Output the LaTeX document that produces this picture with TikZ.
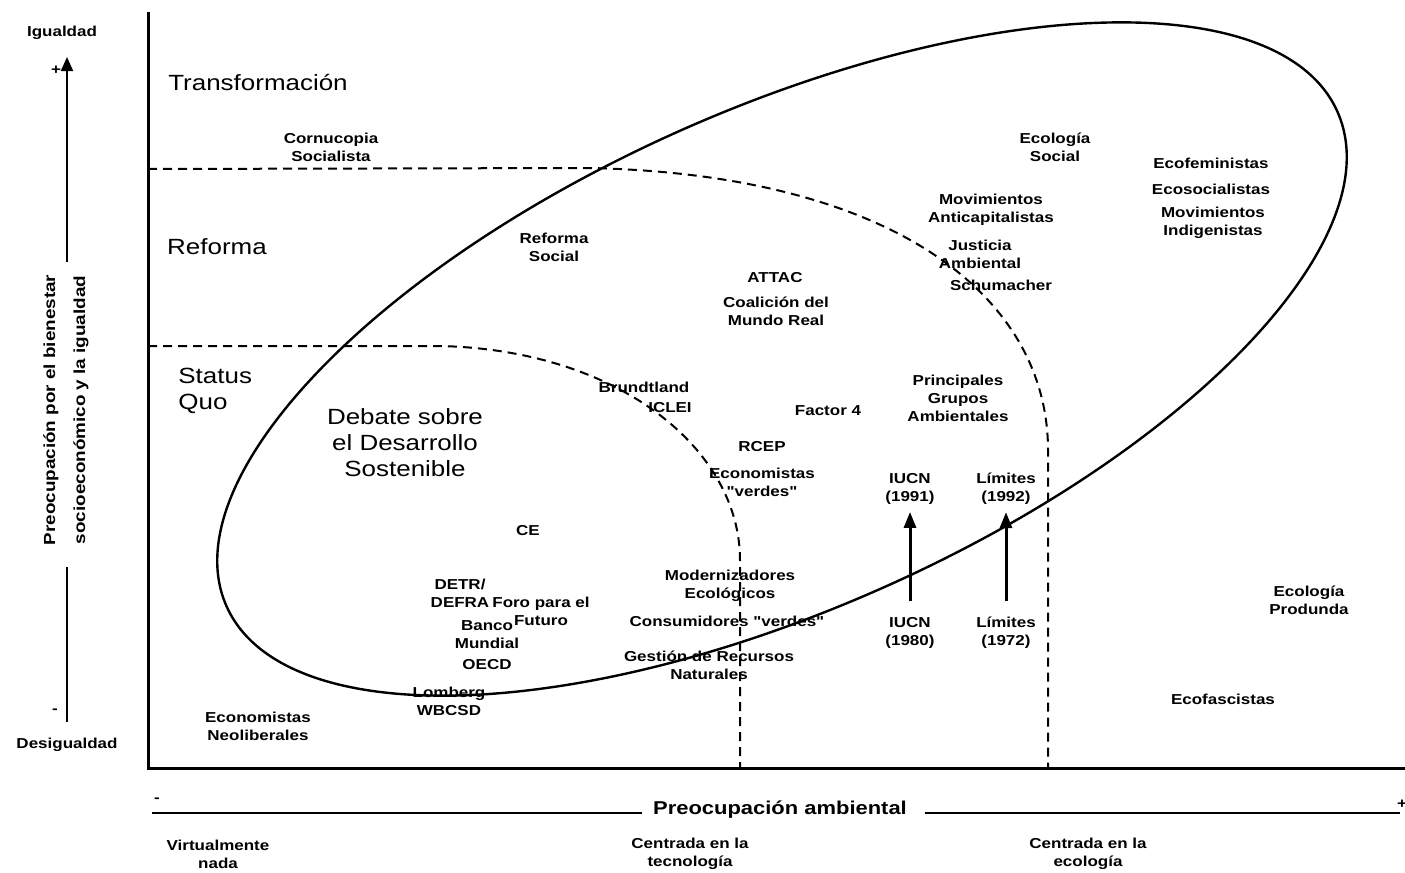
\documentclass[tikz,border=0pt]{standalone}
\usepackage{fontspec}
\setmainfont[FakeStretch=1.18,Ligatures=TeXOff]{Liberation Sans}
\usetikzlibrary{arrows.meta}
\begin{document}
\begin{tikzpicture}[x=0.5pt,y=-0.5pt,
  lbl/.style={font=\fontsize{7.2}{9}\selectfont\bfseries, align=center, inner sep=0pt},
  big/.style={font=\fontsize{11}{13}\selectfont, align=center, inner sep=0pt},
  axisline/.style={line width=1.5pt},
  thinaxis/.style={line width=1pt},
  bound/.style={line width=1pt, dash pattern=on 4.5pt off 3pt},
  ring/.style={line width=1.2pt},
  moveup/.style={line width=1.5pt, -{Triangle[width=6pt,length=8pt]}}
]
\fill[white] (0,0) rectangle (1405,873);
\useasboundingbox (0,0) rectangle (1405,873);

% main frame: vertical and horizontal axes
\coordinate (ytop) at (148,12);
\coordinate (origin) at (148,768);
\coordinate (xend) at (1405,768);
\draw[axisline] (ytop) -- (origin) -- (xend);

% vertical scale: equality arrow
\coordinate (ya) at (67,722);
\coordinate (yb) at (67,567);
\coordinate (yc) at (67,262);
\coordinate (yd) at (67,57);
\draw[thinaxis] (ya) -- (yb);
\draw[thinaxis, -{Triangle[width=6pt,length=7pt]}] (yc) -- (yd);
\node[lbl] (igual) at (62,33) {Igualdad};
\node[lbl] (plusy) at (56,70) {+};
\node[lbl] (minusy) at (55,711) {-};
\node[lbl] (desigual) at (67,745) {Desigualdad};
\node[lbl, font=\fontsize{8}{15}\selectfont\bfseries, rotate=90] (yaxis) at (66,410)
  {Preocupación por el bienestar\\socioeconómico y la igualdad};

% horizontal scale: environmental concern
\coordinate (xa) at (152,813);
\coordinate (xb) at (642,813);
\coordinate (xc) at (925,813);
\coordinate (xd) at (1400,813);
\draw[thinaxis] (xa) -- (xb);
\draw[thinaxis] (xc) -- (xd);
\node[lbl, font=\fontsize{9.3}{11}\selectfont\bfseries] (xaxis) at (780,810) {Preocupación ambiental};
\node[lbl] (minusx) at (157,800) {-};
\node[lbl] (plusx) at (1402,804) {+};
\node[lbl] (nada) at (218,854) {Virtualmente\\nada};
\node[lbl] (tecno) at (690,854) {Centrada en la\\tecnología};
\node[lbl] (eco) at (1088,854) {Centrada en la\\ecología};

% dashed boundaries between transformation, reform and status quo
\coordinate (r0) at (148,169);
\coordinate (r1) at (590,168);
\coordinate (r2) at (1048,450);
\coordinate (r3) at (1048,768);
\draw[bound] (r0) -- (r1) .. controls (900,175) and (1048,300) .. (r2) -- (r3);
\coordinate (s0) at (148,346);
\coordinate (s1) at (440,346);
\coordinate (s2) at (740,560);
\coordinate (s3) at (740,768);
\draw[bound] (s0) -- (s1) .. controls (620,350) and (740,450) .. (s2) -- (s3);

% sustainable development debate
\draw[ring, shift={(782,359)}, rotate=24] (0,0) ellipse [x radius=608, y radius=250];

% region names
\node[big] (transf) at (258,83) {Transformación};
\node[big] (reforma) at (217,247) {Reforma};
\node[big, anchor=west, align=left] (statusquo) at (178,391) {Status\\Quo};
\node[big] (debate) at (405,443) {Debate sobre\\el Desarrollo\\Sostenible};

% actors
\node[lbl] (cornu) at (331,147) {Cornucopia\\Socialista};
\node[lbl] (refsoc) at (554,247) {Reforma\\Social};
\node[lbl] (attac) at (775,278) {ATTAC};
\node[lbl] (coal) at (776,311) {Coalición del\\Mundo Real};
\node[lbl] (ecosoc) at (1055,147) {Ecología\\Social};
\node[lbl] (movanti) at (991,210) {Movimientos\\Anticapitalistas};
\node[lbl] (justicia) at (980,254) {Justicia\\Ambiental};
\node[lbl] (schum) at (1001,285) {Schumacher};
\node[lbl] (ecofem) at (1211,163) {Ecofeministas};
\node[lbl] (ecosocial) at (1211,189) {Ecosocialistas};
\node[lbl] (movind) at (1213,223) {Movimientos\\Indigenistas};
\node[lbl] (grupos) at (958,398) {Principales\\Grupos\\Ambientales};
\node[lbl] (factor) at (828,411) {Factor 4};
\node[lbl] (brund) at (644,387) {Brundtland};
\node[lbl] (iclei) at (670,408) {ICLEI};
\node[lbl] (rcep) at (762,447) {RCEP};
\node[lbl] (ecoverdes) at (762,482) {Economistas\\"verdes"};
\node[lbl] (ce) at (528,531) {CE};
\node[lbl] (detr) at (460,593) {DETR/\\DEFRA};
\node[lbl] (foro) at (541,611) {Foro para el\\Futuro};
\node[lbl] (banco) at (487,635) {Banco\\Mundial};
\node[lbl] (oecd) at (487,665) {OECD};
\node[lbl] (lomberg) at (449,701) {Lomberg\\WBCSD};
\node[lbl] (neolib) at (258,726) {Economistas\\Neoliberales};
\node[lbl] (moder) at (730,586) {Modernizadores\\Ecológicos};
\node[lbl] (consum) at (727,621) {Consumidores "verdes"};
\node[lbl] (gestion) at (709,665) {Gestión de Recursos\\Naturales};
\node[lbl] (iucnB) at (910,489) {IUCN\\(1991)};
\node[lbl] (limB) at (1006,489) {Límites\\(1992)};
\node[lbl] (iucnA) at (910,633) {IUCN\\(1980)};
\node[lbl] (limA) at (1006,633) {Límites\\(1972)};
\node[lbl] (profunda) at (1309,600) {Ecología\\Produnda};
\node[lbl] (ecofas) at (1223,699) {Ecofascistas};

% shifts of position over time
\draw[moveup, shorten <=8pt, shorten >=3.5pt] (iucnA) -- (iucnB);
\draw[moveup, shorten <=8pt, shorten >=3.5pt] (limA) -- (limB);
\end{tikzpicture}
\end{document}
